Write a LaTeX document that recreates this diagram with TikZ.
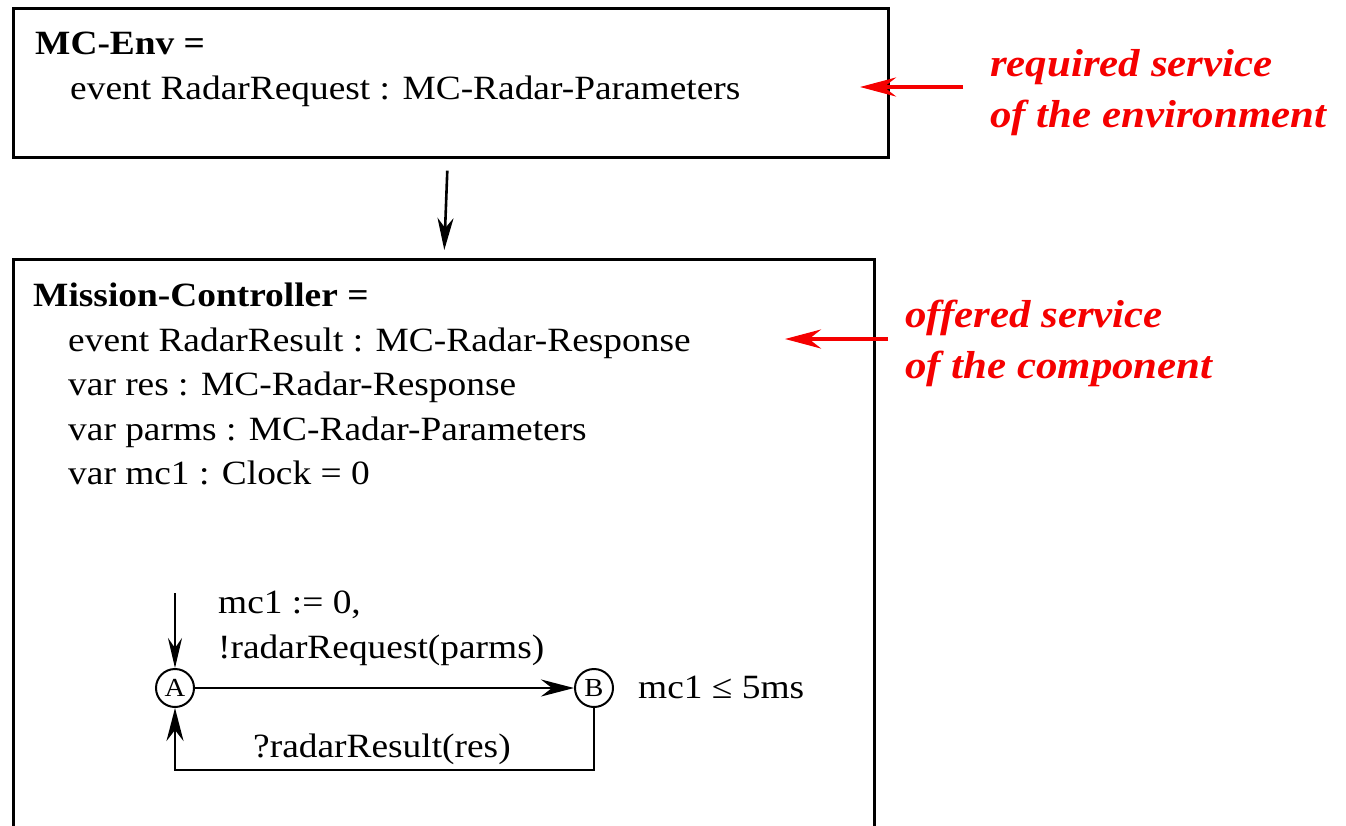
\documentclass[tikz,border=0pt]{standalone}
\usepackage{fontspec}
\setmainfont{Liberation Serif}[FakeStretch=1.1]
\usetikzlibrary{arrows.meta,calc}
\definecolor{notered}{RGB}{245,0,0}
\begin{document}
\begin{tikzpicture}[x=1pt,y=-1pt,
  frame/.style={draw, line width=2.6pt, inner sep=0pt, anchor=north west},
  txt/.style={anchor=base west, inner sep=0pt, font=\fontsize{34}{42}\selectfont},
  hdr/.style={txt, font=\fontsize{34}{42}\selectfont\bfseries},
  note/.style={anchor=base west, inner sep=0pt, text=notered,
    font=\fontsize{39}{48}\selectfont\bfseries\itshape},
  notearrow/.style={draw=notered, line width=4pt,
    -{Stealth[length=36pt,width=19pt,inset=12pt]}},
  linkarrow/.style={line width=2.6pt, -{Stealth[length=32pt,width=16pt,inset=10pt]}},
  state/.style={draw, circle, line width=2pt, minimum size=38pt, inner sep=0pt,
    font=\fontsize{26}{26}\selectfont},
  trans/.style={line width=2.8pt, -{Stealth[length=33pt,width=17pt,inset=11pt]}},
]
\useasboundingbox (0,0) rectangle (1346,825);
\clip (0,0) rectangle (1346,825);

% environment box
\node[frame, minimum width=875pt, minimum height=149pt] (env) at (12,7) {};
\node[hdr] (envhead) at (35,54) {MC-Env =};
\node[txt] (envev) at (70,99) {event RadarRequest : MC-Radar-Parameters};

% component box (runs past the lower edge)
\node[frame, minimum width=861pt, minimum height=620pt] (mc) at (12,258) {};
\node[hdr] (mchead) at (33,306) {Mission-Controller =};
\node[txt] (mcev) at (68,351) {event RadarResult : MC-Radar-Response};
\node[txt] (mcres) at (68,395) {var res : MC-Radar-Response};
\node[txt] (mcparms) at (68,440) {var parms : MC-Radar-Parameters};
\node[txt] (mcclock) at (68,484) {var mc1 : Clock = 0};

% link between the boxes
\draw[linkarrow] ([xshift=-3.5pt,yshift=-12pt]env.south) -- ([xshift=0.5pt,yshift=8pt]mc.north);

% red annotations
\node[note] (req1) at (990,76) {required service};
\node[note] (req2) at (990,127) {of the environment};
\node[note] (off1) at (905,327) {offered service};
\node[note] (off2) at (905,378) {of the component};
\coordinate (reqtail) at (963,87);
\coordinate (reqtip) at (860,87);
\coordinate (offtail) at (888,339);
\coordinate (offtip) at (785,339);
\draw[notearrow] (reqtail) -- (reqtip);
\draw[notearrow] (offtail) -- (offtip);

% timed automaton
\node[state] (A) at (175,688) {A};
\node[state] (B) at (594,688) {B};
\coordinate (init) at (175,593);
\draw[trans, -{Stealth[length=30pt,width=14pt,inset=10pt]}] (init) -- (A);
\draw[trans] (A) -- (B);
\draw[trans] (B.south) -- ++(0,62) -| (A.south);
\node[txt] (g1) at (218,613) {mc1 := 0,};
\node[txt] (g2) at (218,658) {!radarRequest(parms)};
\node[txt] (g3) at (253,757) {?radarResult(res)};
\node[txt] (inv) at (638,698) {mc1 ≤ 5ms};
\end{tikzpicture}
\end{document}
